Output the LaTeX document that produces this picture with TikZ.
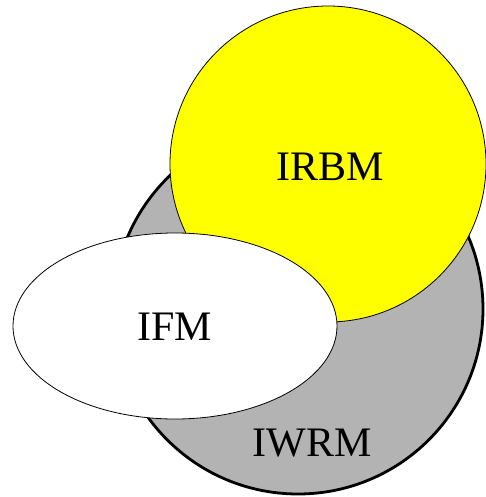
\documentclass[tikz,border=0pt]{standalone}
\usepackage{fontspec}
\setmainfont{Liberation Serif}
\usetikzlibrary{shapes.geometric}
\definecolor{pureyellow}{RGB}{255,255,0}
\definecolor{midgray}{RGB}{179,179,179}
\begin{document}
\begin{tikzpicture}[x=1pt,y=-1pt,
  lbl/.style={font=\fontsize{42}{42}\selectfont, inner sep=0pt},
  blob/.style={draw=black, inner sep=0pt, outer sep=0pt}]
\useasboundingbox (0,0) rectangle (486,497);
\node[blob, circle, fill=midgray, line width=2.8pt, minimum size=370pt] (iwrmc) at (298,309) {};
\node[blob, circle, fill=pureyellow, line width=0.8pt, minimum size=316pt] (irbmc) at (328,164) {};
\node[blob, ellipse, fill=white, line width=0.8pt, minimum width=324pt, minimum height=186pt] (ifmc) at (175,326) {};
\node[lbl] (irbm) at (330,167) {IRBM};
\node[lbl] (ifm) at (175,327) {IFM};
\node[lbl] (iwrm) at (312,443) {IWRM};
\end{tikzpicture}
\end{document}
